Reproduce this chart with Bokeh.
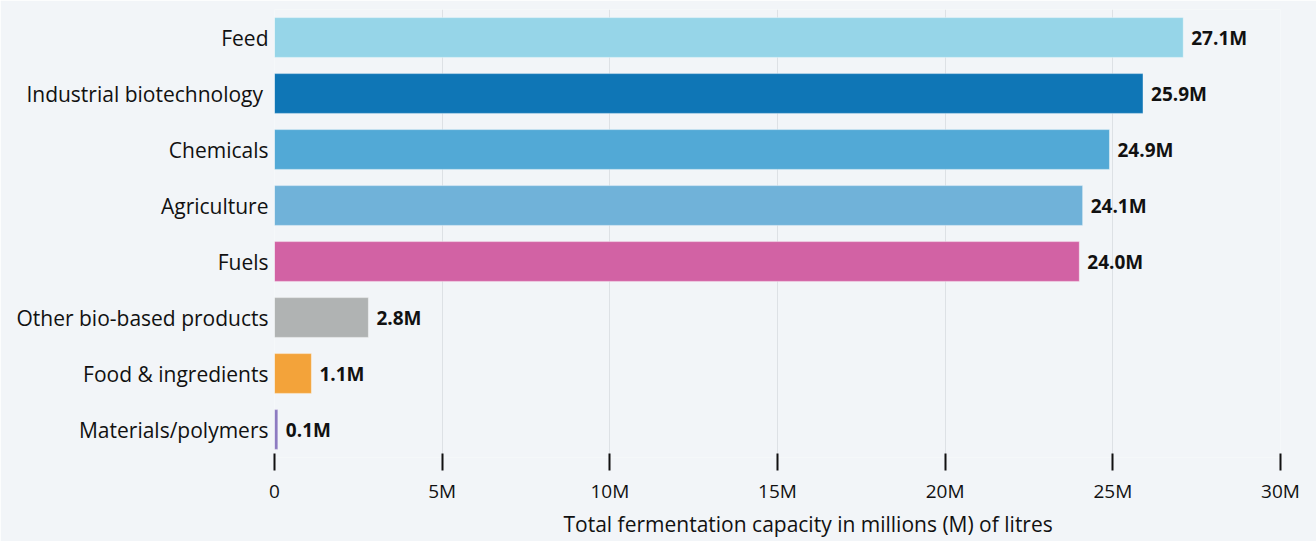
from bokeh.plotting import figure
from bokeh.models import ColumnDataSource, FactorRange, Range1d, FixedTicker, Title
from bokeh.core.properties import value
from bokeh.embed import file_html
from bokeh.resources import INLINE

categories = ["Feed", "Industrial  biotechnology", "Chemicals", "Agriculture", "Fuels",
              "Other bio-based products", "Food & ingredients", "Materials/polymers"]
values_m = [27.1, 25.9, 24.9, 24.1, 24.0, 2.8, 1.1, 0.1]
colors = ["#96d5e8", "#0f76b6", "#52a9d6", "#70b2d9", "#d262a4", "#b0b3b3", "#f3a33a", "#8d7bc1"]
tick_values = [0, 5, 10, 15, 20, 25, 30]
tick_labels = ["0", "5M", "10M", "15M", "20M", "25M", "30M"]
x_title = "Total fermentation capacity in millions (M) of litres"

FONT = "Open Sans"
BG = "#f2f5f8"

src = ColumnDataSource(dict(
    cat=categories, val=values_m, color=colors,
    label=[f"{v:.1f}M" for v in values_m],
))

p = figure(width=1316, height=541, output_backend="svg", toolbar_location=None,
           y_range=FactorRange(*reversed(categories), range_padding=0),
           x_range=Range1d(0, 30))
p.background_fill_color = BG
p.border_fill_color = BG
p.outline_line_color = None
p.min_border_left = 274
p.min_border_right = 36
p.min_border_top = 9
p.min_border_bottom = 84

p.hbar(y="cat", right="val", left=0, height=0.71, color="color", source=src,
       line_color="white", line_alpha=0.4, line_width=1)
p.text(x="val", y="cat", text="label", source=src, x_offset=8,
       text_baseline="middle", text_align="left", text_font=value(FONT),
       text_font_size="19px", text_font_style="bold", text_color="#111111")

p.ygrid.grid_line_color = None
p.xgrid.grid_line_color = "#dde1e5"
p.xgrid.ticker = FixedTicker(ticks=tick_values)

xa = p.xaxis[0]
xa.ticker = FixedTicker(ticks=tick_values)
xa.major_label_overrides = {v: l for v, l in zip(tick_values, tick_labels)}
xa.axis_line_color = None
xa.major_tick_in = 4
xa.major_tick_out = 13
xa.major_tick_line_width = 2
xa.major_tick_line_color = "#111111"
xa.minor_tick_line_color = None
xa.major_label_standoff = 7
xa.major_label_text_font = FONT
xa.major_label_text_font_size = "19px"
xa.major_label_text_color = "#111111"

t = Title(text=x_title, align="left", offset=289, standoff=2,
          text_font=FONT, text_font_size="21px", text_font_style="normal",
          text_color="#111111")
p.add_layout(t, "below")

ya = p.yaxis[0]
ya.axis_line_color = None
ya.major_tick_line_color = None
ya.minor_tick_line_color = None
ya.major_label_standoff = 0
ya.major_label_text_font = FONT
ya.major_label_text_font_size = "21px"
ya.major_label_text_color = "#111111"

open("out.html", "w").write(file_html(p, INLINE))
